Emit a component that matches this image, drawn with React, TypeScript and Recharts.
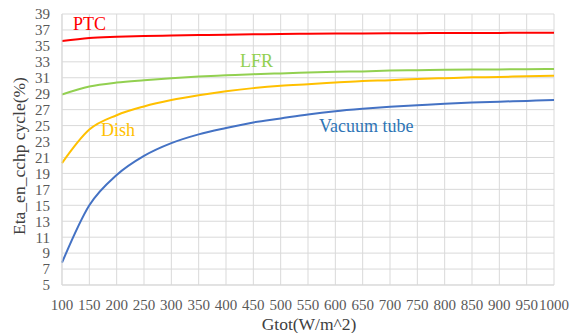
import React from 'react';
import {
  LineChart,
  Line,
  XAxis,
  YAxis,
  CartesianGrid,
} from 'recharts';

const gtot = [100, 150, 200, 250, 300, 350, 400, 450, 500, 550, 600, 650, 700, 750, 800, 850, 900, 950, 1000];
const ptc = [35.6, 36.0, 36.15, 36.25, 36.3, 36.35, 36.4, 36.45, 36.5, 36.52, 36.54, 36.56, 36.58, 36.6, 36.61, 36.62, 36.63, 36.64, 36.65];
const lfr = [28.9, 29.9, 30.4, 30.7, 30.95, 31.15, 31.3, 31.45, 31.55, 31.65, 31.75, 31.8, 31.9, 31.95, 32.0, 32.03, 32.05, 32.08, 32.1];
const dish = [20.3, 24.5, 26.3, 27.4, 28.2, 28.8, 29.3, 29.7, 30.0, 30.2, 30.4, 30.6, 30.7, 30.85, 30.95, 31.05, 31.1, 31.2, 31.25];
const vacuum = [7.8, 15.0, 18.8, 21.2, 22.8, 23.9, 24.7, 25.4, 25.9, 26.4, 26.8, 27.1, 27.35, 27.55, 27.75, 27.9, 28.0, 28.1, 28.2];

const yTicks = [5, 7, 9, 11, 13, 15, 17, 19, 21, 23, 25, 27, 29, 31, 33, 35, 37, 39];

const data = gtot.map((g, i) => ({
  g,
  ptc: ptc[i],
  lfr: lfr[i],
  dish: dish[i],
  vacuum: vacuum[i],
}));

const FONT = 'Liberation Serif';
const TICK = { fontSize: 15, fill: '#595959', fontFamily: FONT };

export default function App() {
  return (
    <div
      style={{
        position: 'absolute',
        left: 0,
        top: 0,
        width: 581,
        height: 333,
        background: '#fff',
        fontFamily: FONT,
      }}
    >
      <LineChart
        width={581}
        height={333}
        data={data}
        margin={{ top: 14, right: 27, bottom: 0, left: 0 }}
        style={{ fontFamily: FONT }}
      >
        <CartesianGrid stroke="#d9d9d9" strokeWidth={1} />
        <XAxis
          dataKey="g"
          type="number"
          domain={[100, 1000]}
          ticks={gtot}
          interval={0}
          height={48}
          tick={TICK}
          tickSize={0}
          tickMargin={14}
          axisLine={{ stroke: '#d9d9d9' }}
          tickLine={false}
        />
        <YAxis
          type="number"
          domain={[5, 39]}
          ticks={yTicks}
          interval={0}
          width={62}
          tick={TICK}
          tickSize={0}
          tickMargin={12}
          axisLine={{ stroke: '#d9d9d9' }}
          tickLine={false}
        />
        <Line type="monotone" dataKey="ptc" stroke="#ff0000" strokeWidth={2} dot={false} isAnimationActive={false} />
        <Line type="monotone" dataKey="lfr" stroke="#92d050" strokeWidth={2} dot={false} isAnimationActive={false} />
        <Line type="monotone" dataKey="dish" stroke="#ffc000" strokeWidth={2} dot={false} isAnimationActive={false} />
        <Line type="monotone" dataKey="vacuum" stroke="#4472c4" strokeWidth={2} dot={false} isAnimationActive={false} />
        <text x={73} y={30} fill="#ff0000" fontSize={18} style={{ fontFamily: FONT }}>PTC</text>
        <text x={240} y={67} fill="#92d050" fontSize={18} style={{ fontFamily: FONT }}>LFR</text>
        <text x={101} y={136} fill="#ffc000" fontSize={18} style={{ fontFamily: FONT }}>Dish</text>
        <text x={319} y={132} fill="#2e75b6" fontSize={18} style={{ fontFamily: FONT }}>Vacuum tube</text>
        <text x={309} y={330} textAnchor="middle" fill="#404040" fontSize={17.5} style={{ fontFamily: FONT }}>
          Gtot(W/m^2)
        </text>
        <text
          x={25}
          y={156}
          textAnchor="middle"
          fill="#404040"
          fontSize={17.5}
          style={{ fontFamily: FONT }}
          transform="rotate(-90 25 156)"
        >
          Eta_en_cchp cycle(%)
        </text>
      </LineChart>
    </div>
  );
}
